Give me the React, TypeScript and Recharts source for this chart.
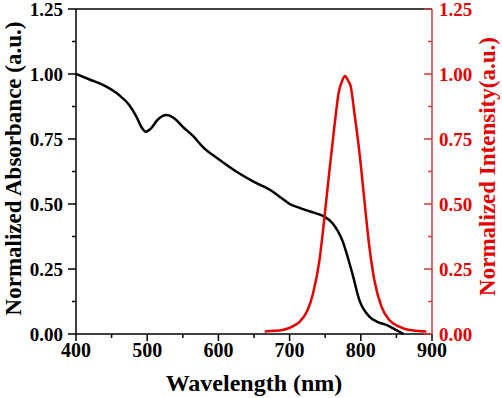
import React from 'react'
import { LineChart, Line, XAxis, YAxis, ReferenceLine } from 'recharts'

const absWavelength = [400, 420, 440, 460, 475, 485, 492, 498, 505, 515, 527, 540, 550, 565, 578, 600, 625, 650, 675, 690, 700, 714, 730, 749, 760, 774, 788, 798, 812, 825, 836, 850, 860]
const absValue = [1.0, 0.978, 0.955, 0.92, 0.88, 0.835, 0.795, 0.778, 0.79, 0.825, 0.842, 0.825, 0.797, 0.76, 0.72, 0.673, 0.625, 0.585, 0.55, 0.52, 0.5, 0.485, 0.47, 0.451, 0.427, 0.36, 0.234, 0.13, 0.067, 0.045, 0.035, 0.015, 0.0]

const emWavelength = [665, 690, 705, 714, 725, 733, 742, 749, 756, 763, 769, 774, 778, 782, 786, 791, 798, 805, 812, 819, 829, 840, 854, 868, 880, 892]
const emValue = [0.01, 0.015, 0.03, 0.047, 0.09, 0.157, 0.285, 0.45, 0.63, 0.8, 0.93, 0.975, 0.992, 0.975, 0.95, 0.85, 0.7, 0.515, 0.336, 0.208, 0.105, 0.054, 0.028, 0.015, 0.012, 0.01]

const xTicks = [400, 450, 500, 550, 600, 650, 700, 750, 800, 850, 900]
const yTicks = [0, 0.125, 0.25, 0.375, 0.5, 0.625, 0.75, 0.875, 1.0, 1.125, 1.25]

const absData = absWavelength.map((x, i) => ({ x, y: absValue[i] }))
const emData = emWavelength.map((x, i) => ({ x, y: emValue[i] }))

const FONT = '"Liberation Serif", "Times New Roman", serif'
const RED = '#e60000'
const RED_AXIS = '#d33a3a'

const isMajor = (v: number, step: number) => Math.abs(v / step - Math.round(v / step)) < 1e-6

const XTick = (props: any) => {
    const { x, y, payload } = props
    const major = isMajor(payload.value, 100)
    return (
        <g>
            <line x1={x} x2={x} y1={y} y2={y + (major ? 7 : 4)} stroke="#000" strokeWidth={1.5} />
            {major && (
                <text x={x} y={y + 16} dy="0.35em" textAnchor="middle" fontFamily={FONT} fontWeight="bold" fontSize={20} fill="#000">
                    {payload.value}
                </text>
            )}
        </g>
    )
}

const LeftTick = (props: any) => {
    const { x, y, payload } = props
    const major = isMajor(payload.value, 0.25)
    return (
        <g>
            <line x1={x - (major ? 8 : 4)} x2={x} y1={y} y2={y} stroke="#000" strokeWidth={1.5} />
            {major && (
                <text x={x - 13} y={y} dy="0.35em" textAnchor="end" fontFamily={FONT} fontWeight="bold" fontSize={19} fill="#000">
                    {payload.value.toFixed(2)}
                </text>
            )}
        </g>
    )
}

const RightTick = (props: any) => {
    const { x, y, payload } = props
    const major = isMajor(payload.value, 0.25)
    return (
        <g>
            <line x1={x - (major ? 8 : 4)} x2={x} y1={y} y2={y} stroke={RED_AXIS} strokeWidth={1.5} />
            {major && (
                <text x={x + 7} y={y} dy="0.35em" textAnchor="start" fontFamily={FONT} fontWeight="bold" fontSize={19} fill={RED}>
                    {payload.value.toFixed(2)}
                </text>
            )}
        </g>
    )
}

const leftLabel = (props: any) => {
    const vb = props.viewBox
    const cx = vb.x + 13
    const cy = vb.y + vb.height / 2 - 3
    return (
        <text x={cx} y={cy} dy="0.35em" transform={`rotate(-90 ${cx} ${cy})`} textAnchor="middle" fontFamily={FONT} fontWeight="bold" fontSize={23} fill="#000">
            Normalized Absorbance (a.u.)
        </text>
    )
}

const rightLabel = (props: any) => {
    const vb = props.viewBox
    const cx = vb.x + vb.width - 15
    const cy = vb.y + vb.height / 2 - 5
    return (
        <text x={cx} y={cy} dy="0.35em" transform={`rotate(-90 ${cx} ${cy})`} textAnchor="middle" fontFamily={FONT} fontWeight="bold" fontSize={23} fill={RED}>
            Normalized Intensity(a.u.)
        </text>
    )
}

const bottomLabel = (props: any) => {
    const vb = props.viewBox
    return (
        <text x={vb.x + vb.width / 2} y={vb.y + 49} dy="0.35em" textAnchor="middle" fontFamily={FONT} fontWeight="bold" fontSize={24} fill="#000">
            Wavelength (nm)
        </text>
    )
}

export default function App() {
    return (
        <div style={{ position: 'absolute', left: 0, top: 0, background: '#fff' }}>
            <LineChart width={502} height={398} margin={{ top: 9, right: 0, left: 0, bottom: 0 }}>
                <XAxis
                    dataKey="x"
                    type="number"
                    domain={[400, 900]}
                    ticks={xTicks}
                    allowDuplicatedCategory={false}
                    height={64}
                    tickLine={false}
                    tickSize={0}
                    tickMargin={0}
                    axisLine={{ stroke: '#000', strokeWidth: 1.5 }}
                    tick={XTick}
                    interval={0}
                    label={bottomLabel}
                />
                <YAxis
                    yAxisId="left"
                    type="number"
                    domain={[0, 1.25]}
                    ticks={yTicks}
                    width={76}
                    tickLine={false}
                    tickSize={0}
                    tickMargin={0}
                    axisLine={{ stroke: '#000', strokeWidth: 1.5 }}
                    tick={LeftTick}
                    interval={0}
                    label={leftLabel}
                />
                <YAxis
                    yAxisId="right"
                    orientation="right"
                    type="number"
                    domain={[0, 1.25]}
                    ticks={yTicks}
                    width={70}
                    tickLine={false}
                    tickSize={0}
                    tickMargin={0}
                    axisLine={{ stroke: RED_AXIS, strokeWidth: 1.5 }}
                    tick={RightTick}
                    interval={0}
                    label={rightLabel}
                />
                <ReferenceLine yAxisId="left" y={1.25} stroke="#000" strokeWidth={1.5} />
                <Line
                    yAxisId="left"
                    data={absData}
                    dataKey="y"
                    type="monotone"
                    stroke="#000"
                    strokeWidth={2.5}
                    dot={false}
                    activeDot={false}
                    isAnimationActive={false}
                />
                <Line
                    yAxisId="right"
                    data={emData}
                    dataKey="y"
                    type="monotone"
                    stroke={RED}
                    strokeWidth={2.5}
                    dot={false}
                    activeDot={false}
                    isAnimationActive={false}
                />
            </LineChart>
        </div>
    )
}
